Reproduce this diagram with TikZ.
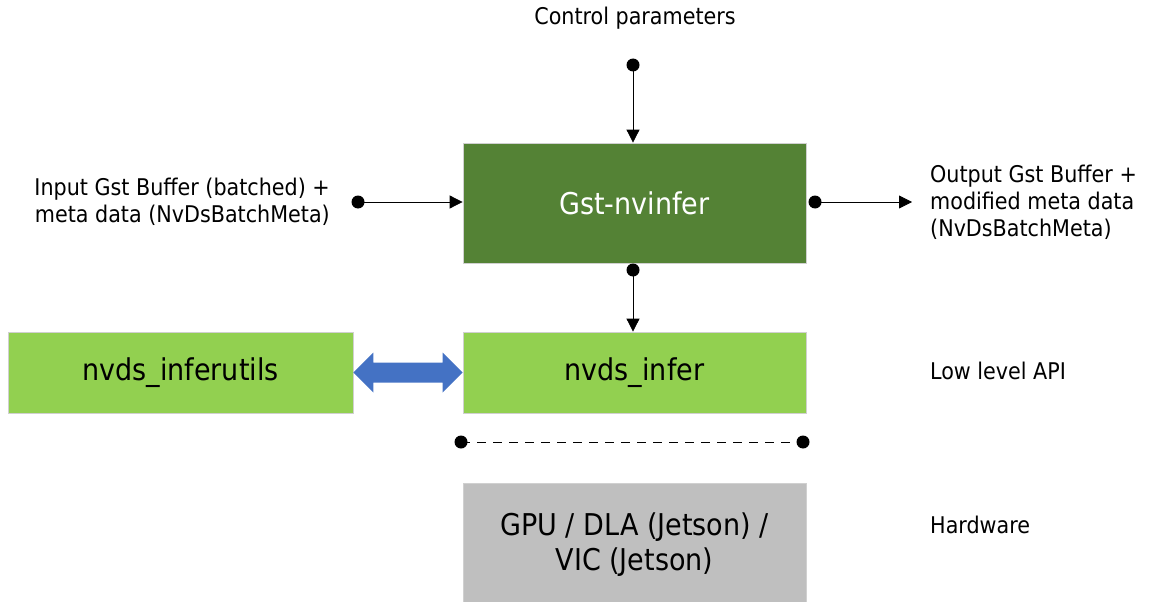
\documentclass[tikz,border=0pt]{standalone}
\usepackage{fontspec}
\setmainfont{DejaVu Sans Condensed}
\usetikzlibrary{arrows.meta,calc}
\definecolor{darkgr}{HTML}{548235}
\definecolor{lightgr}{HTML}{92D050}
\definecolor{hwgray}{HTML}{BFBFBF}
\definecolor{bluearr}{HTML}{4472C4}
\definecolor{edgegray}{HTML}{D0D0D0}
\begin{document}
\begin{tikzpicture}[x=1pt,y=-1pt,
  box/.style={draw=edgegray, line width=0.8pt, minimum width=343pt, inner sep=0pt, font=\fontsize{30}{36}\selectfont, align=center},
  lbl/.style={font=\fontsize{23}{27}\selectfont, inner sep=0pt},
  conn/.style={line width=0.8pt, -{Triangle[length=13pt,width=13pt]}},
  dotc/.style={circle, fill=black, inner sep=0pt, minimum size=13pt}]
\useasboundingbox (0,0) rectangle (1149,602);
\node[box, fill=darkgr, text=white, minimum height=120pt] (gst) at (634.5,203) {Gst-nvinfer};
\node[box, fill=lightgr, minimum height=81pt] (infer) at (634.5,372.5) {nvds\_infer};
\node[box, fill=lightgr, minimum height=81pt, minimum width=345pt] (utils) at (180.5,372.5) {nvds\_inferutils};
\node[box, fill=hwgray, minimum height=124pt, font=\fontsize{30}{35}\selectfont] (hw) at (634.5,545) {GPU / DLA (Jetson) /\\VIC (Jetson)};
% labels
\node[lbl] (ctrl) at (635,18) {Control parameters};
\node[lbl, align=right, anchor=east] (inp) at (330,202) {Input Gst Buffer (batched) +\\meta data (NvDsBatchMeta)};
\node[lbl, align=left, anchor=west] (outp) at (930,202) {Output Gst Buffer +\\modified meta data\\(NvDsBatchMeta)};
\node[lbl, anchor=west] (low) at (930,371) {Low level API};
\node[lbl, anchor=west] (hwl) at (930,525) {Hardware};
% dots
\node[dotc] (d1) at (633,65) {};
\node[dotc] (d2) at (358,202) {};
\node[dotc] (d3) at (815,202) {};
\node[dotc] (d4) at (633,270) {};
\node[dotc] (d5) at (461,442) {};
\node[dotc] (d6) at (803,442) {};
\coordinate (outend) at (912,202);
% connectors
\draw[conn] (d1.center) -- (d1.center |- gst.north);
\draw[conn] (d2.center) -- (d2.center -| gst.west);
\draw[conn] (d3.center) -- (outend);
\draw[conn] (d4.center) -- (d4.center |- infer.north);
\draw[line width=1pt, dash pattern=on 9pt off 7pt] (d5.center) -- (d6.center);
% double arrow
\coordinate (la) at (utils.east);
\coordinate (ra) at (infer.west);
\fill[bluearr] (la) -- ($(la)+(20,-20)$) -- ($(la)+(20,-10)$) -- ($(ra)+(-20,-10)$) -- ($(ra)+(-20,-20)$)
  -- (ra) -- ($(ra)+(-20,20)$) -- ($(ra)+(-20,10)$) -- ($(la)+(20,10)$) -- ($(la)+(20,20)$) -- cycle;
\end{tikzpicture}
\end{document}
